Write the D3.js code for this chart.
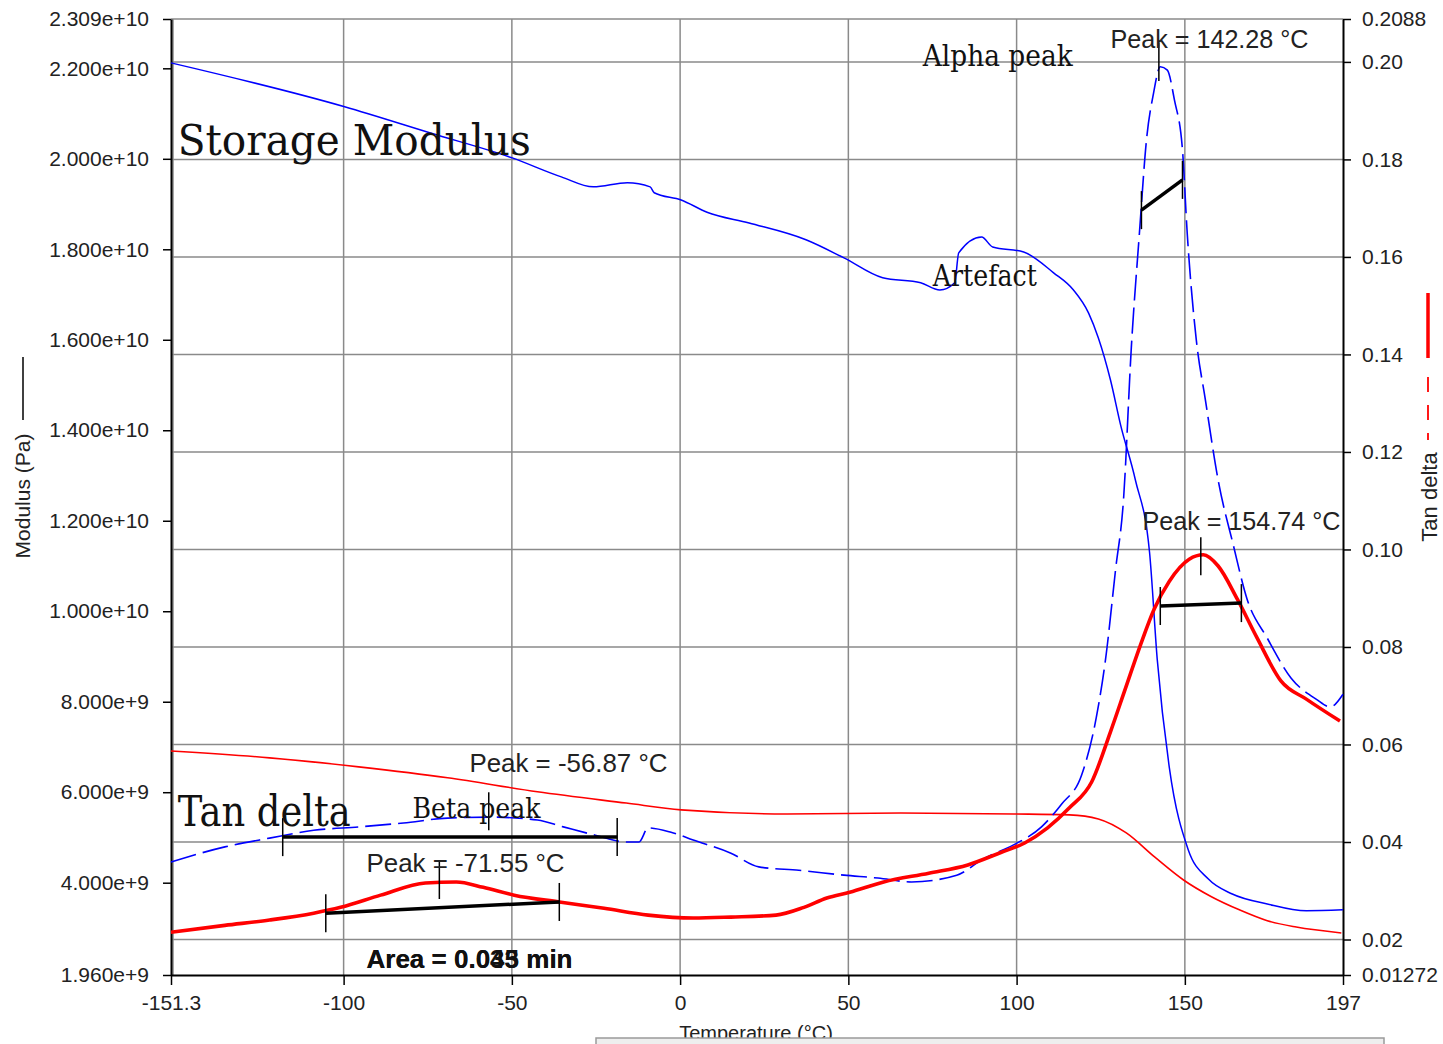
<!DOCTYPE html>
<html>
<head>
<meta charset="utf-8">
<script src="https://cdn.jsdelivr.net/npm/d3@7"></script>
<style>
  body { margin: 0; background: #fff; }
  svg { display: block; }
</style>
</head>
<body>
<div id="chart"></div>
<script>
// axis ticks
const tempTicks = [-151.3, -100, -50, 0, 50, 100, 150, 197];
const modTicks = [2.309e10, 2.2e10, 2.0e10, 1.8e10, 1.6e10, 1.4e10, 1.2e10, 1.0e10, 8e9, 6e9, 4e9, 1.96e9];
const tanTicks = [0.2088, 0.20, 0.18, 0.16, 0.14, 0.12, 0.10, 0.08, 0.06, 0.04, 0.02, 0.01272];
const tanTickLabels = ["0.2088", "0.20", "0.18", "0.16", "0.14", "0.12", "0.10", "0.08", "0.06", "0.04", "0.02", "0.01272"];

// storage modulus, sample A (blue solid, Pa x 1e9)
const modATemp = [-151.3, -99.7, -74.2, -49.9, -35.3, -25.8, -15.7, -8.9, -7.7, 0.3, 8.0, 20.5, 37.4, 48.7, 60.2, 71.5, 77.2, 81.6, 82.8, 89.6, 92.9, 102.1, 111.0, 116.9, 121.4, 124.3, 127.9, 130.9, 135.3, 139.5, 141.8, 145.4, 151.0, 157.0, 164.1, 174.5, 186.1, 197];
const modAVal = [22.12, 21.15, 20.57, 20.02, 19.60, 19.38, 19.47, 19.38, 19.25, 19.09, 18.82, 18.58, 18.21, 17.81, 17.37, 17.26, 17.10, 17.26, 17.92, 18.27, 18.05, 17.94, 17.48, 17.10, 16.59, 16.04, 15.11, 14.12, 12.90, 11.31, 8.93, 6.54, 4.73, 4.08, 3.75, 3.53, 3.38, 3.40];

// tan delta, sample A (blue dashed)
const tanATemp = [-151.3, -135.3, -122.0, -108.9, -95.5, -82.2, -69.1, -55.8, -42.4, -34.7, -25.2, -16.0, -12.2, -9.5, -2.7, 3.9, 15.1, 23.4, 35.3, 48.7, 58.8, 68.8, 82.2, 90.5, 99.1, 107.4, 113.4, 119.3, 123.7, 126.4, 129.4, 131.8, 134.1, 136.5, 138.6, 140.7, 142.7, 144.8, 146.9, 149.3, 150.7, 153.4, 156.1, 159.9, 164.4, 168.5, 174.5, 181.6, 189.0, 193.2, 197];
const tanAVal = [0.0359, 0.0390, 0.0408, 0.0424, 0.0431, 0.0439, 0.0449, 0.0451, 0.0445, 0.0431, 0.0414, 0.0400, 0.0400, 0.0429, 0.0420, 0.0404, 0.0377, 0.0349, 0.0342, 0.0332, 0.0326, 0.0318, 0.0332, 0.0367, 0.0394, 0.0431, 0.0478, 0.0537, 0.0656, 0.0773, 0.0958, 0.1105, 0.1415, 0.1649, 0.1840, 0.1936, 0.1990, 0.1983, 0.1922, 0.1819, 0.1649, 0.1430, 0.1307, 0.1142, 0.1009, 0.0898, 0.0818, 0.0736, 0.0693, 0.0677, 0.0703];

// tan delta, sample B (red thick)
const tanBTemp = [-151.3, -135.3, -122.0, -108.9, -100.9, -89.0, -75.7, -66.5, -58.5, -49.3, -35.9, -22.6, -9.5, 3.9, 15.1, 28.5, 36.8, 43.6, 50.4, 60.5, 73.9, 85.5, 95.5, 102.4, 109.2, 115.7, 122.3, 127.9, 132.3, 136.8, 140.9, 145.4, 151.3, 155.5, 159.9, 165.6, 171.5, 178.6, 186.1, 196.1];
const tanBVal = [0.0215, 0.0229, 0.0240, 0.0254, 0.0266, 0.0291, 0.0316, 0.0318, 0.0307, 0.0291, 0.0277, 0.0264, 0.0250, 0.0244, 0.0246, 0.0250, 0.0266, 0.0285, 0.0297, 0.0318, 0.0336, 0.0353, 0.0379, 0.0398, 0.0429, 0.0470, 0.0523, 0.0626, 0.0714, 0.0804, 0.0878, 0.0935, 0.0980, 0.0989, 0.0966, 0.0898, 0.0818, 0.0730, 0.0693, 0.0648];

// storage modulus, sample B (red thin, Pa x 1e9)
const modBTemp = [-151.3, -122.0, -95.5, -69.1, -42.4, -16.0, 0.3, 31.8, 65.6, 99.1, 115.7, 124.3, 132.6, 141.0, 149.6, 157.9, 166.2, 174.5, 183.1, 196.5];
const modBVal = [6.91, 6.76, 6.56, 6.32, 6.01, 5.76, 5.61, 5.52, 5.54, 5.52, 5.50, 5.41, 5.10, 4.57, 4.06, 3.69, 3.40, 3.16, 3.02, 2.89];

// peak markers (temperature, tan delta)
const peakTemp = [142.28, 154.74, -56.87, -71.55];
const peakTan = [0.200, 0.0986, 0.0463, 0.0322];

// integration baselines [T1, tan1, T2, tan2]
const baseT1 = [137.1, 142.7, -118.1, -105.3];
const baseV1 = [0.1696, 0.0884, 0.0410, 0.0254];
const baseT2 = [149.3, 166.8, -18.7, -35.9];
const baseV2 = [0.1758, 0.0890, 0.0410, 0.0277];

// text annotations
const serifLabels = ["Storage Modulus", "Tan delta", "Alpha peak", "Artefact", "Beta peak"];
const serifTemp = [-149.3, -149.3, 72.1, 75.1, -79.5];
const serifTan = [0.1809, 0.0433, 0.1992, 0.1540, 0.0449];
const peakLabels = ["Peak = 142.28 °C", "Peak = 154.74 °C", "Peak = -56.87 °C", "Peak = -71.55 °C"];
const peakLabelTemp = [127.9, 137.4, -62.6, -93.2];
const peakLabelTan = [0.2029, 0.1040, 0.0543, 0.0338];

drawChart();

function drawChart() {
  const width = 1443, height = 1044;
  const left = 171, right = 1343, top = 19, bottom = 975;

  const svg = d3.select("#chart").append("svg")
    .attr("width", width)
    .attr("height", height);

  const x = d3.scaleLinear().domain([-151.3, 197]).range([left, right]);
  const yMod = d3.scaleLinear().domain([1.96, 23.09]).range([bottom, top]);
  const yTan = d3.scaleLinear().domain([0.01272, 0.2088]).range([bottom, top]);

  // grid
  const grid = svg.append("g").attr("stroke", "#8a8a8a").attr("stroke-width", 1.5);
  grid.selectAll(".vg").data(tempTicks.slice(0, -1)).enter().append("line")
    .attr("x1", d => x(d) + (d === -151.3 ? 2 : 0))
    .attr("x2", d => x(d) + (d === -151.3 ? 2 : 0))
    .attr("y1", top).attr("y2", bottom);
  grid.selectAll(".hg").data(tanTicks.slice(0, -1)).enter().append("line")
    .attr("x1", left).attr("x2", right)
    .attr("y1", d => yTan(d)).attr("y2", d => yTan(d));

  // axes
  const fmtMod = d => d3.format(".3e")(d * 1e9);
  const axL = svg.append("g").attr("transform", `translate(${left},0)`)
    .call(d3.axisLeft(yMod).tickValues(modTicks.map(d => d / 1e9)).tickFormat(fmtMod).tickSize(8).tickSizeOuter(0).tickPadding(14));
  const axR = svg.append("g").attr("transform", `translate(${right},0)`)
    .call(d3.axisRight(yTan).tickValues(tanTicks).tickFormat((d, i) => tanTickLabels[i]).tickSize(8).tickSizeOuter(0).tickPadding(11));
  const axB = svg.append("g").attr("transform", `translate(0,${bottom})`)
    .call(d3.axisBottom(x).tickValues(tempTicks).tickFormat(d => String(d)).tickSize(10).tickSizeOuter(0).tickPadding(10));

  [axL, axR, axB].forEach(a => {
    a.select(".domain").attr("stroke", "#000").attr("stroke-width", 2);
    a.selectAll(".tick line").attr("stroke", "#000").attr("stroke-width", 1.5);
    a.selectAll(".tick text")
      .attr("fill", "#222")
      .style("font-family", "'Liberation Sans', Arial, sans-serif")
      .style("font-size", "21px");
  });

  // curves
  const line = (xs, ys, ysc) => d3.line()
    .x((d, i) => x(xs[i]))
    .y((d, i) => ysc(ys[i]))
    .curve(d3.curveMonotoneX)(xs);

  svg.append("path").attr("d", line(modBTemp, modBVal, yMod))
    .attr("fill", "none").attr("stroke", "#ff0000").attr("stroke-width", 1.6);
  svg.append("path").attr("d", line(modATemp, modAVal, yMod))
    .attr("fill", "none").attr("stroke", "#0000ff").attr("stroke-width", 1.5);
  svg.append("path").attr("d", line(tanATemp, tanAVal, yTan))
    .attr("fill", "none").attr("stroke", "#0000ff").attr("stroke-width", 1.6)
    .attr("stroke-dasharray", "26,7");
  svg.append("path").attr("d", line(tanBTemp, tanBVal, yTan))
    .attr("fill", "none").attr("stroke", "#ff0000").attr("stroke-width", 3.6);

  // baselines + peak markers
  const ann = svg.append("g").attr("stroke", "#000");
  baseT1.forEach((t, i) => {
    ann.append("line")
      .attr("x1", x(t)).attr("y1", yTan(baseV1[i]))
      .attr("x2", x(baseT2[i])).attr("y2", yTan(baseV2[i]))
      .attr("stroke-width", 3.5);
    [[t, baseV1[i]], [baseT2[i], baseV2[i]]].forEach(p => {
      ann.append("line")
        .attr("x1", x(p[0])).attr("x2", x(p[0]))
        .attr("y1", yTan(p[1]) - 19).attr("y2", yTan(p[1]) + 19)
        .attr("stroke-width", 1.5);
    });
  });
  peakTemp.forEach((t, i) => {
    ann.append("line")
      .attr("x1", x(t)).attr("x2", x(t))
      .attr("y1", yTan(peakTan[i]) - 19).attr("y2", yTan(peakTan[i]) + 19)
      .attr("stroke-width", 1.5);
  });

  // serif labels
  const serifSize = [42, 42, 29, 29, 28];
  const serifLen = [353, 173, 150, 104, 128];
  serifLabels.forEach((s, i) => {
    svg.append("text")
      .attr("x", x(serifTemp[i])).attr("y", yTan(serifTan[i]))
      .attr("textLength", serifLen[i]).attr("lengthAdjust", "spacingAndGlyphs")
      .style("font-family", "'DejaVu Serif', serif")
      .style("font-size", serifSize[i] + "px")
      .attr("fill", "#111")
      .text(s);
  });

  // peak labels
  peakLabels.forEach((s, i) => {
    svg.append("text")
      .attr("x", x(peakLabelTemp[i])).attr("y", yTan(peakLabelTan[i]))
      .attr("textLength", 198).attr("lengthAdjust", "spacingAndGlyphs")
      .style("font-family", "'Liberation Sans', Arial, sans-serif")
      .style("font-size", "25px")
      .attr("fill", "#222")
      .text(s);
  });

  // overprinted area labels (as in the source)
  ["Area = 0.043  min", "Area = 0.035  min"].forEach((s, i) => {
    svg.append("text")
      .attr("x", x(-93.2)).attr("y", yTan(0.0141))
      .attr("textLength", 206).attr("lengthAdjust", "spacingAndGlyphs")
      .style("font-family", "'Liberation Sans', Arial, sans-serif")
      .style("font-size", "25px")
      .style("font-weight", "bold")
      .attr("fill", "#111")
      .text(s);
  });

  // axis titles
  svg.append("text")
    .attr("transform", "translate(30,496) rotate(-90)")
    .attr("text-anchor", "middle")
    .style("font-family", "'Liberation Sans', Arial, sans-serif")
    .style("font-size", "21px")
    .attr("fill", "#222")
    .text("Modulus (Pa)");
  svg.append("line").attr("x1", 23).attr("x2", 23).attr("y1", 357).attr("y2", 420)
    .attr("stroke", "#000").attr("stroke-width", 1.5);

  svg.append("text")
    .attr("transform", "translate(1437,497) rotate(-90)")
    .attr("text-anchor", "middle")
    .style("font-family", "'Liberation Sans', Arial, sans-serif")
    .style("font-size", "22px")
    .attr("fill", "#222")
    .text("Tan delta");
  svg.append("line").attr("x1", 1428).attr("x2", 1428).attr("y1", 293).attr("y2", 358)
    .attr("stroke", "#ff0000").attr("stroke-width", 3.5);
  svg.append("line").attr("x1", 1428).attr("x2", 1428).attr("y1", 377).attr("y2", 440)
    .attr("stroke", "#ff0000").attr("stroke-width", 1.8).attr("stroke-dasharray", "15,13");

  svg.append("text")
    .attr("x", 756).attr("y", 1040)
    .attr("text-anchor", "middle")
    .style("font-family", "'Liberation Sans', Arial, sans-serif")
    .style("font-size", "20px")
    .attr("fill", "#222")
    .text("Temperature (°C)");

  // strip at the bottom edge
  svg.append("rect")
    .attr("x", 596).attr("y", 1038).attr("width", 788).attr("height", 10)
    .attr("fill", "#eeeeee").attr("stroke", "#9a9a9a").attr("stroke-width", 1.5);
}
</script>
</body>
</html>
